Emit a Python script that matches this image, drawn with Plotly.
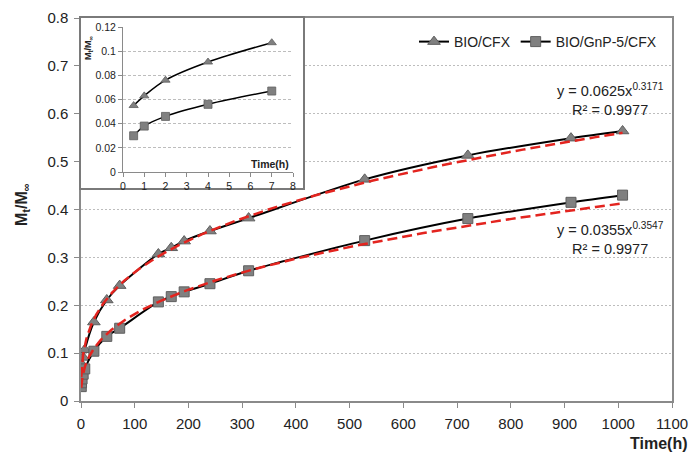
import numpy as np
import plotly.graph_objects as go

# ---------------- data ----------------
time_h = [0.5, 1, 2, 4, 7, 24, 48, 72, 144, 168, 192, 240, 312, 528, 720, 912, 1008]
bio_cfx = [0.055, 0.063, 0.076, 0.091, 0.107, 0.165, 0.211, 0.241, 0.307, 0.320,
           0.334, 0.355, 0.382, 0.463, 0.513, 0.549, 0.564]
bio_gnp = [0.030, 0.038, 0.046, 0.056, 0.067, 0.104, 0.135, 0.152, 0.207, 0.218,
           0.228, 0.245, 0.272, 0.335, 0.381, 0.415, 0.430]
inset_n = 5  # first points shown in the inset (0.5 - 7 h)

# power trendlines shown on the chart: y = a * x^b
fit_cfx = (0.0625, 0.3171, 0.9977)
fit_gnp = (0.0355, 0.3547, 0.9977)

names = ["BIO/CFX", "BIO/GnP-5/CFX"]

FONT = "Liberation Sans, Arial, sans-serif"
GRAY_AX = "#8a8a8a"
MK_FILL = "#808080"
MK_LINE = "#5e5e5e"
RED = "#e3241f"
TXT = "#222222"

fig = go.Figure()

# trendline x grid derived from the data range
tx = np.geomspace(min(time_h), max(time_h), 300)

series = [
    (bio_cfx, fit_cfx, "triangle-up", 11, names[0]),
    (bio_gnp, fit_gnp, "square", 10, names[1]),
]

for vals, fit, sym, sz, nm in series:
    fig.add_trace(go.Scatter(
        x=time_h, y=vals, mode="lines+markers", name=nm,
        line=dict(color="black", width=2, shape="spline", smoothing=0.8),
        marker=dict(symbol=sym, size=sz, color=MK_FILL, line=dict(color=MK_LINE, width=1)),
        xaxis="x", yaxis="y",
    ))

for vals, fit, sym, sz, nm in series:
    a, b, r2 = fit
    fig.add_trace(go.Scatter(
        x=tx, y=a * tx ** b, mode="lines", showlegend=False,
        line=dict(color=RED, width=2.5, dash="10px,5px"),
        xaxis="x", yaxis="y",
    ))

# invisible trace for the inset frame subplot
fig.add_trace(go.Scatter(x=[], y=[], xaxis="x2", yaxis="y2", showlegend=False))

# inset traces
for vals, fit, sym, sz, nm in series:
    fig.add_trace(go.Scatter(
        x=time_h[:inset_n], y=vals[:inset_n], mode="lines+markers", showlegend=False,
        line=dict(color="black", width=1.5, shape="spline"),
        marker=dict(symbol=sym, size=8, color=MK_FILL, line=dict(color=MK_LINE, width=0.8)),
        xaxis="x3", yaxis="y3",
    ))

# layout geometry (px)
W, H = 691, 456
L, R, T, B = 81, 19, 18, 55
pw, ph = W - L - R, H - T - B

def px_x(p):
    return (p - L) / pw

def px_y(p):
    return (H - B - p) / ph

tick_font = dict(family=FONT, size=15, color=TXT)
inset_font = dict(family=FONT, size=10.5, color=TXT)

fig.update_layout(
    width=W, height=H,
    margin=dict(l=L, r=R, t=T, b=B),
    paper_bgcolor="white", plot_bgcolor="white",
    template="none",
    font=dict(family=FONT, color=TXT),
    showlegend=True,
    legend=dict(orientation="h", x=px_x(414), y=px_y(42), xanchor="left", yanchor="middle",
                font=dict(family=FONT, size=14, color=TXT),
                bgcolor="rgba(0,0,0,0)", itemwidth=30, tracegroupgap=0),
    xaxis=dict(domain=[0, 1], range=[0, 1100], dtick=100, tick0=0,
               showline=True, linecolor=GRAY_AX, linewidth=1.5, mirror=True,
               ticks="outside", ticklen=5, tickcolor=GRAY_AX, tickfont=tick_font,
               ticklabelstandoff=3,
               showgrid=False, zeroline=False),
    yaxis=dict(domain=[0, 1], range=[0, 0.8], dtick=0.1, tick0=0,
               showline=True, linecolor=GRAY_AX, linewidth=1.5, mirror=True,
               ticks="outside", ticklen=5, tickcolor=GRAY_AX, tickfont=tick_font,
               ticklabelstandoff=3,
               showgrid=True, gridcolor="#bdbdbd", gridwidth=1, griddash="2px,2px",
               zeroline=False),
    # inset frame
    xaxis2=dict(domain=[0, px_x(303)], range=[0, 1], anchor="y2",
                showline=True, linecolor="#7a7a7a", linewidth=2, mirror=True,
                showticklabels=False, ticks="", showgrid=False, zeroline=False),
    yaxis2=dict(domain=[px_y(188), 1], range=[0, 1], anchor="x2",
                showline=True, linecolor="#7a7a7a", linewidth=2, mirror=True,
                showticklabels=False, ticks="", showgrid=False, zeroline=False),
    # inset plot
    xaxis3=dict(domain=[px_x(123), px_x(293)], range=[0, 8], dtick=1, tick0=0, anchor="y3",
                showline=True, linecolor=GRAY_AX, linewidth=1, mirror=False,
                ticks="outside", ticklen=4, tickcolor=GRAY_AX, tickfont=inset_font,
                showgrid=False, zeroline=False),
    yaxis3=dict(domain=[px_y(172), px_y(27)], range=[0, 0.12], dtick=0.02, tick0=0, anchor="x3",
                showline=True, linecolor=GRAY_AX, linewidth=1, mirror=False,
                ticks="outside", ticklen=4, tickcolor=GRAY_AX, tickfont=inset_font,
                showgrid=True, gridcolor="#bdbdbd", gridwidth=1, griddash="3px,2px",
                zeroline=False),
)

def eq_text(fit):
    a, b, r2 = fit
    return f"y = {a}x<sup>{b}</sup><br>R² = {r2}"

def ann(text, x, y, size, bold=False, angle=0, xanchor="center"):
    return dict(text=text, xref="paper", yref="paper", x=px_x(x), y=px_y(y),
                xanchor=xanchor, yanchor="middle", textangle=angle, showarrow=False,
                align="center", font=dict(family=FONT, size=size, color=TXT))

annotations = [
    ann("<b>M<sub>t</sub>/M<sub>∞</sub></b>", 22, 205, 16, angle=-90),
    ann("<b>Time(h)</b>", 658, 443, 16),
    ann(eq_text(fit_cfx), 610, 100, 14.5),
    ann(eq_text(fit_gnp), 610, 238, 14.5),
    ann("<b>M<sub>t</sub>/M<sub>∞</sub></b>", 89, 48, 9, angle=-90),
    ann("<b>Time(h)</b>", 291, 164, 10.5, xanchor="right"),
]
fig.update_layout(annotations=annotations)

fig.write_html("out.html")
